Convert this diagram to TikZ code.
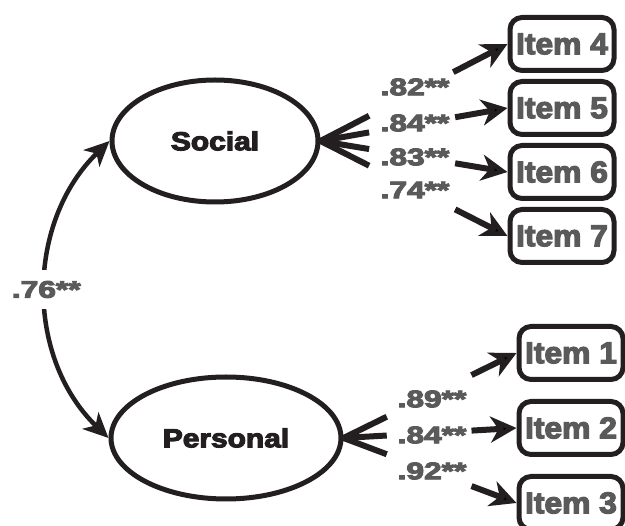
\documentclass[tikz,border=0pt]{standalone}
\usepackage{fontspec}
\setmainfont{Liberation Sans}
\newfontfamily\heavy{Liberation Sans}[UprightFont={* Bold}, FakeBold=4]
\usetikzlibrary{shapes.geometric,arrows.meta,calc}
\definecolor{ink}{HTML}{231F20}
\definecolor{txtgray}{HTML}{5A5A5A}

\begin{document}
\begin{tikzpicture}[x=1pt, y=1pt,
    latent/.style={ellipse, draw=ink, line width=5pt, inner sep=0pt,
      minimum height=122pt, text=ink, font=\fontsize{26}{26}\selectfont\heavy},
    item/.style={rectangle, rounded corners=12pt, draw=ink, line width=5pt,
      minimum width=104pt, minimum height=53pt, inner sep=0pt,
      text=txtgray, font=\fontsize{30}{30}\selectfont\heavy},
    load/.style={inner sep=0pt, text=txtgray, font=\fontsize{24}{24}\selectfont\heavy},
    stub/.style={draw=ink, line width=6pt},
    tip/.style={-{Stealth[length=26pt, width=26pt, inset=8pt]}},
    corr/.style={draw=ink, line width=4.5pt,
      {Stealth[length=25pt, width=23pt, inset=7pt]}-{Stealth[length=25pt, width=23pt, inset=7pt]}}]
  \useasboundingbox (0,0) rectangle (625,-526);

  % factors
  \node[latent, minimum width=206pt] (social) at (215,-141) {\scalebox{1.15}[1]{Social}};
  \node[latent, minimum width=230pt] (personal) at (226,-438) {\scalebox{1.15}[1]{Personal}};

  % indicators
  \node[item] (item4) at (562,-44) {\scalebox{1.06}[1]{Item 4}};
  \node[item] (item5) at (562,-108) {\scalebox{1.06}[1]{Item 5}};
  \node[item] (item6) at (562,-172) {\scalebox{1.06}[1]{Item 6}};
  \node[item] (item7) at (562,-236) {\scalebox{1.06}[1]{Item 7}};
  \node[item] (item1) at (571,-353) {\scalebox{1.06}[1]{Item 1}};
  \node[item] (item2) at (571,-428) {\scalebox{1.06}[1]{Item 2}};
  \node[item] (item3) at (571,-503) {\scalebox{1.06}[1]{Item 3}};

  % loadings
  \node[load] (l4) at (415,-87) {\scalebox{1.32}[1]{.82**}};
  \node[load] (l5) at (415,-123) {\scalebox{1.32}[1]{.84**}};
  \node[load] (l6) at (415,-157) {\scalebox{1.32}[1]{.83**}};
  \node[load] (l7) at (415,-190) {\scalebox{1.32}[1]{.74**}};
  \node[load] (l1) at (432,-399) {\scalebox{1.32}[1]{.89**}};
  \node[load] (l2) at (432,-435) {\scalebox{1.32}[1]{.84**}};
  \node[load] (l3) at (432,-471) {\scalebox{1.32}[1]{.92**}};

  \coordinate (s4) at ($(social.east)!.26!(item4.west)$);
  \coordinate (s5) at ($(social.east)!.26!(item5.west)$);
  \coordinate (s6) at ($(social.east)!.26!(item6.west)$);
  \coordinate (s7) at ($(social.east)!.26!(item7.west)$);
  \coordinate (a4) at ($(social.east)!.71!(item4.west)$);
  \coordinate (a5) at ($(social.east)!.72!(item5.west)$);
  \coordinate (a6) at ($(social.east)!.72!(item6.west)$);
  \coordinate (a7) at ($(social.east)!.72!(item7.west)$);
  \coordinate (p1) at ($(personal.east)!.25!(item1.west)$);
  \coordinate (p2) at ($(personal.east)!.25!(item2.west)$);
  \coordinate (p3) at ($(personal.east)!.25!(item3.west)$);
  \coordinate (b1) at ($(personal.east)!.74!(item1.west)$);
  \coordinate (b2) at ($(personal.east)!.74!(item2.west)$);
  \coordinate (b3) at ($(personal.east)!.74!(item3.west)$);

  \draw[stub] (social.east) edge (s4) edge (s5) edge (s6) edge (s7);
  \draw[stub] (personal.east) edge (p1) edge (p2) edge (p3);
  \draw[stub] (a4) edge[tip] (item4.west)
              (a5) edge[tip] (item5.west)
              (a6) edge[tip] (item6.west)
              (a7) edge[tip] (item7.west)
              (b1) edge[tip] (item1.west)
              (b2) edge[tip] (item2.west)
              (b3) edge[tip] (item3.west);

  % correlation
  \draw[corr] (social.west) to[out=224, in=136]
    node[load, fill=white, inner ysep=11pt, inner xsep=1pt] (r) {\scalebox{1.32}[1]{.76**}}
    (personal.west);
\end{tikzpicture}
\end{document}
